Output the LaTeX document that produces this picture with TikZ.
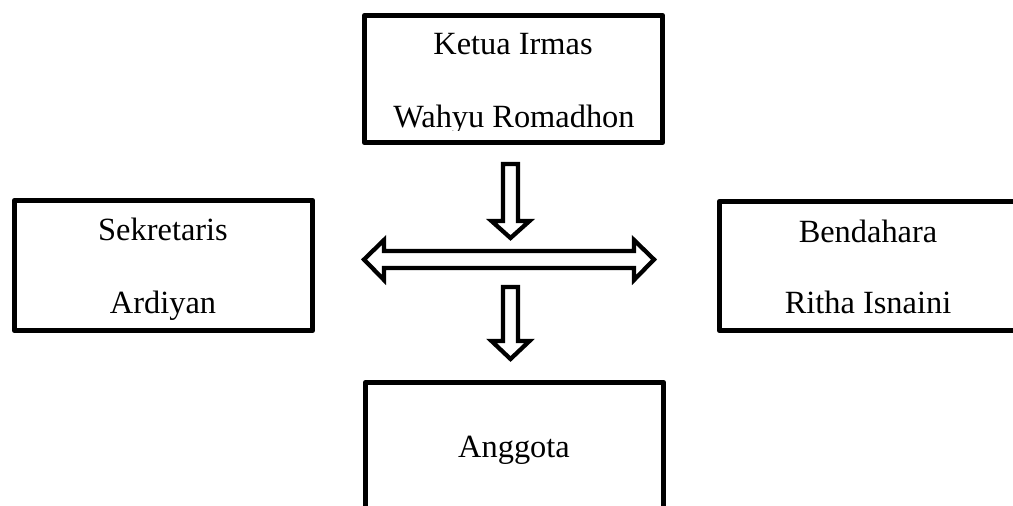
\documentclass[tikz,border=0pt]{standalone}
\usepackage{fontspec}
\setmainfont{Liberation Serif}
\begin{document}
\begin{tikzpicture}[x=0.75pt,y=-0.75pt,
  box/.style={draw, line width=4pt, line join=round, inner sep=0pt, minimum width=223.5pt},
  blockarrow/.style={draw, line width=3.2pt, fill=white, line join=miter},
  lbl/.style={anchor=base, font=\fontsize{24.3}{29}\selectfont, inner sep=0pt}]
\useasboundingbox (0,0) rectangle (1013,506);
\clip (0,0) rectangle (1013,506);
% boxes
\node[box, minimum height=95.25pt] (ketua) at (513.5,79) {};
\node[box, minimum height=97.5pt] (sekretaris) at (163.5,265.5) {};
\node[box, minimum height=96.75pt] (bendahara) at (868.5,266) {};
\node[box, minimum height=97.5pt] (anggota) at (514.5,447.5) {};
% labels
\begin{scope}
  \clip (362,13) rectangle (665,131);
  \node[lbl] (k1) at (513,55) {Ketua Irmas};
  \node[lbl] (k2) at (514,128) {Wahyu Romadhon};
\end{scope}
\node[lbl] (s1) at (163,240) {Sekretaris};
\node[lbl] (s2) at (163,313) {Ardiyan};
\node[lbl] (b1) at (868,242) {Bendahara};
\node[lbl] (b2) at (868,313) {Ritha Isnaini};
\node[lbl] (a1) at (514,457) {Anggota};
% block arrows
\draw[blockarrow] (503,164) -- (518,164) -- (518,221) -- (529.5,221) -- (510.5,238)
  -- (491.5,221) -- (503,221) -- cycle;
\draw[blockarrow] (364,259.5) -- (384,240) -- (384,251) -- (634,251) -- (634,240)
  -- (654,259.5) -- (634,280) -- (634,268) -- (384,268) -- (384,280) -- cycle;
\draw[blockarrow] (503,287) -- (518,287) -- (518,341) -- (529.5,341) -- (510.5,359)
  -- (491.5,341) -- (503,341) -- cycle;
\end{tikzpicture}
\end{document}
